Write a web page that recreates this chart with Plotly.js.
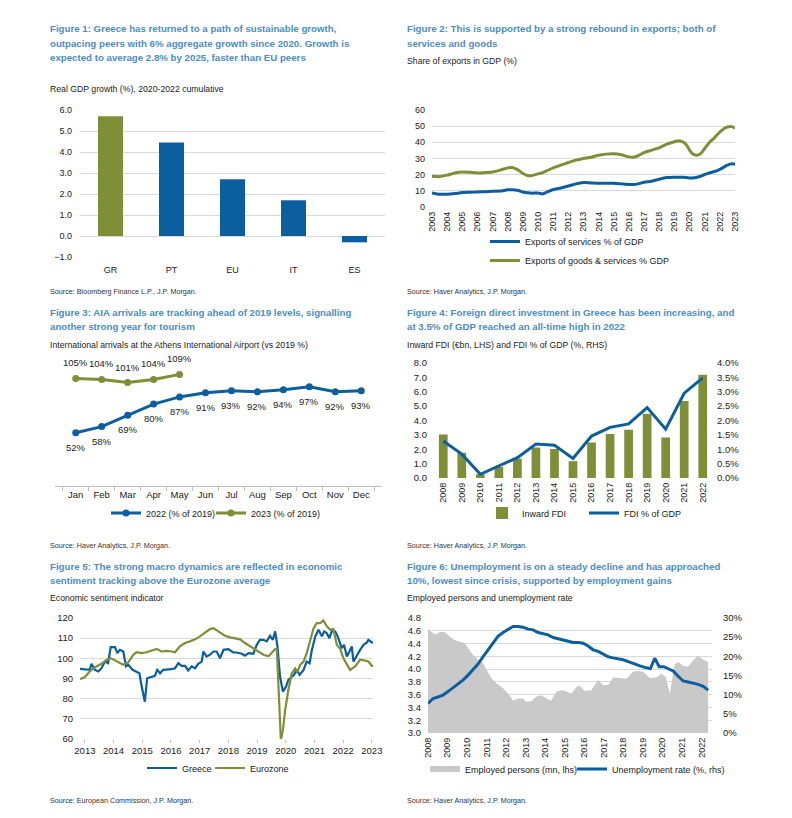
<!DOCTYPE html>
<html><head><meta charset="utf-8">
<script src="https://cdn.plot.ly/plotly-3.0.1.min.js"></script>
<style>html,body{margin:0;padding:0;background:#fff}#chart{width:792px;height:818px}</style>
</head><body><div id="chart"></div>
<script>
// ---------- Figure 1 ----------
const gdpCountries = ['GR', 'PT', 'EU', 'IT', 'ES'];
const gdpGrowth = [5.7, 4.45, 2.7, 1.7, -0.3];

// ---------- Figure 2 ----------
const exportYears = [2003, 2003.5, 2004, 2004.5, 2005, 2005.5, 2006, 2006.5, 2007, 2007.5, 2008, 2008.3, 2008.7, 2009, 2009.3, 2009.6, 2010, 2010.3, 2010.6, 2011, 2011.5, 2012, 2012.5, 2013, 2013.5, 2014, 2014.5, 2015, 2015.5, 2016, 2016.3, 2016.6, 2017, 2017.5, 2018, 2018.5, 2019, 2019.3, 2019.6, 2019.8, 2020, 2020.2, 2020.5, 2020.8, 2021, 2021.3, 2021.6, 2021.9, 2022.2, 2022.5, 2022.8, 2023];
const exportsServices = [8.7, 7.9, 7.9, 8.3, 8.9, 9.1, 9.3, 9.5, 9.7, 9.9, 10.6, 10.7, 10.2, 9.3, 8.8, 8.5, 8.7, 8.1, 9.3, 10.8, 11.8, 13.0, 14.3, 15.1, 14.9, 14.7, 14.7, 14.7, 14.3, 13.9, 13.9, 14.3, 15.3, 15.9, 17.2, 18.2, 18.4, 18.4, 18.4, 18.2, 18.0, 17.9, 18.4, 19.2, 20.1, 21.0, 21.8, 22.8, 24.3, 25.9, 26.7, 26.5];
const exportsGoodsServices = [19.0, 18.8, 19.7, 21.0, 21.7, 21.5, 21.0, 21.3, 21.7, 22.8, 24.2, 24.4, 22.8, 20.7, 19.5, 19.5, 20.5, 21.3, 22.5, 24.2, 25.9, 27.5, 29.0, 30.0, 30.8, 32.0, 32.7, 32.9, 32.3, 31.0, 30.8, 31.7, 33.7, 35.2, 36.6, 38.9, 40.4, 41.0, 40.0, 38.3, 35.2, 32.9, 32.0, 33.7, 36.2, 39.8, 42.4, 45.5, 48.0, 49.5, 49.7, 48.7];

// ---------- Figure 3 ----------
const months = ['Jan', 'Feb', 'Mar', 'Apr', 'May', 'Jun', 'Jul', 'Aug', 'Sep', 'Oct', 'Nov', 'Dec'];
const arrivals2022 = [52, 58, 69, 80, 87, 91, 93, 92, 94, 97, 92, 93];
const arrivals2023 = [105, 104, 101, 104, 109];

// ---------- Figure 4 ----------
const fdiYears = ['2008', '2009', '2010', '2011', '2012', '2013', '2014', '2015', '2016', '2017', '2018', '2019', '2020', '2021', '2022'];
const fdiBn = [3.03, 1.75, 0.26, 0.77, 1.35, 2.12, 2.02, 1.17, 2.47, 3.06, 3.36, 4.46, 2.82, 5.36, 7.18];
const fdiPctGdp = [1.29, 0.83, 0.13, 0.42, 0.71, 1.18, 1.14, 0.68, 1.46, 1.76, 1.88, 2.45, 1.70, 2.95, 3.48];

// ---------- Figure 5 ----------
const esiGreeceDates = [2012.83, 2013.17, 2013.23, 2013.35, 2013.47, 2013.58, 2013.70, 2013.81, 2013.90, 2014.05, 2014.13, 2014.22, 2014.34, 2014.43, 2014.51, 2014.66, 2014.78, 2014.90, 2014.98, 2015.09, 2015.17, 2015.33, 2015.44, 2015.52, 2015.62, 2015.73, 2015.91, 2016.02, 2016.14, 2016.26, 2016.37, 2016.49, 2016.60, 2016.72, 2016.84, 2016.95, 2017.07, 2017.13, 2017.24, 2017.36, 2017.48, 2017.59, 2017.71, 2017.83, 2018.00, 2018.17, 2018.29, 2018.47, 2018.58, 2018.70, 2018.87, 2018.99, 2019.10, 2019.22, 2019.34, 2019.45, 2019.55, 2019.63, 2019.71, 2019.80, 2019.90, 2020.01, 2020.09, 2020.21, 2020.29, 2020.38, 2020.48, 2020.62, 2020.73, 2020.83, 2020.91, 2021.03, 2021.14, 2021.26, 2021.34, 2021.43, 2021.52, 2021.60, 2021.72, 2021.81, 2021.90, 2021.95, 2022.03, 2022.13, 2022.22, 2022.30, 2022.36, 2022.48, 2022.59, 2022.71, 2022.83, 2022.88, 2023.00, 2023.06];
const esiGreece = [94.8, 94.3, 97.3, 94.3, 93.5, 95.1, 98.4, 97.6, 105.6, 105.6, 102.6, 104.2, 103.4, 96.0, 96.8, 94.3, 93.5, 92.6, 86.0, 78.5, 90.1, 90.6, 91.3, 94.3, 92.6, 94.3, 94.3, 94.6, 95.1, 97.6, 96.3, 96.3, 94.0, 96.0, 95.1, 97.3, 98.4, 103.4, 100.9, 101.8, 103.4, 103.4, 100.1, 104.2, 104.6, 102.9, 102.9, 102.3, 101.3, 102.6, 102.3, 106.7, 109.2, 109.2, 108.4, 111.2, 109.2, 113.4, 105.9, 91.0, 83.5, 86.0, 89.3, 91.0, 91.8, 94.3, 91.8, 94.3, 98.4, 97.6, 104.2, 110.9, 114.2, 110.9, 113.4, 112.5, 110.0, 113.4, 113.4, 110.9, 106.7, 105.1, 106.7, 100.9, 103.4, 105.9, 98.4, 101.8, 104.2, 106.7, 107.9, 109.2, 107.9, 107.9];
const esiEuroDates = [2012.83, 2013.00, 2013.17, 2013.35, 2013.58, 2013.76, 2013.90, 2014.05, 2014.22, 2014.34, 2014.51, 2014.69, 2014.80, 2014.98, 2015.15, 2015.33, 2015.50, 2015.67, 2015.85, 2016.02, 2016.14, 2016.31, 2016.49, 2016.66, 2016.84, 2017.01, 2017.19, 2017.36, 2017.48, 2017.59, 2017.71, 2017.88, 2018.06, 2018.23, 2018.41, 2018.58, 2018.76, 2018.93, 2019.05, 2019.22, 2019.40, 2019.51, 2019.63, 2019.69, 2019.78, 2019.83, 2019.90, 2019.98, 2020.09, 2020.21, 2020.33, 2020.41, 2020.50, 2020.62, 2020.73, 2020.85, 2020.97, 2021.08, 2021.20, 2021.31, 2021.43, 2021.55, 2021.66, 2021.78, 2021.90, 2022.01, 2022.13, 2022.24, 2022.42, 2022.59, 2022.77, 2022.88, 2023.00, 2023.06];
const esiEuro = [89.7, 90.7, 93.5, 95.6, 97.3, 99.3, 100.1, 98.9, 97.6, 96.8, 98.0, 101.8, 103.0, 102.6, 103.0, 104.0, 104.7, 103.4, 103.7, 103.4, 103.0, 105.9, 107.6, 108.4, 109.4, 110.9, 112.9, 114.5, 115.0, 113.9, 112.5, 111.2, 110.4, 110.0, 109.4, 107.6, 105.9, 104.6, 103.4, 101.8, 101.0, 102.6, 104.6, 104.2, 79.4, 59.5, 64.4, 74.4, 84.3, 92.6, 95.0, 93.3, 96.8, 98.4, 102.6, 108.4, 115.0, 117.5, 117.5, 118.8, 115.9, 114.2, 114.5, 106.7, 104.6, 100.0, 96.8, 94.3, 96.0, 99.3, 98.9, 98.4, 96.3, 96.3];

// ---------- Figure 6 ----------
const empDates = [2008.00, 2008.26, 2008.43, 2008.60, 2008.85, 2009.11, 2009.37, 2009.62, 2009.88, 2010.05, 2010.30, 2010.56, 2010.82, 2010.99, 2011.24, 2011.50, 2011.84, 2012.10, 2012.35, 2012.61, 2012.86, 2013.03, 2013.29, 2013.55, 2013.80, 2014.06, 2014.31, 2014.57, 2014.83, 2015.08, 2015.34, 2015.59, 2015.76, 2016.02, 2016.36, 2016.70, 2016.96, 2017.22, 2017.47, 2017.81, 2018.15, 2018.49, 2018.70, 2019.01, 2019.35, 2019.69, 2019.95, 2020.17, 2020.37, 2020.63, 2020.80, 2021.05, 2021.31, 2021.57, 2021.82, 2022.08, 2022.33];
const employedPersons = [4.62, 4.56, 4.54, 4.58, 4.58, 4.51, 4.45, 4.43, 4.41, 4.33, 4.22, 4.15, 4.09, 3.99, 3.86, 3.78, 3.70, 3.62, 3.51, 3.54, 3.54, 3.49, 3.50, 3.57, 3.59, 3.54, 3.51, 3.65, 3.67, 3.65, 3.62, 3.72, 3.74, 3.66, 3.67, 3.83, 3.75, 3.75, 3.87, 3.86, 3.85, 3.96, 3.97, 3.96, 3.86, 3.87, 3.93, 3.87, 3.62, 4.08, 4.11, 4.05, 4.04, 4.14, 4.21, 4.15, 4.11];
const unempDates = [2008.00, 2008.26, 2008.51, 2008.77, 2009.02, 2009.28, 2009.54, 2009.79, 2010.05, 2010.30, 2010.56, 2010.82, 2011.07, 2011.33, 2011.58, 2011.84, 2012.10, 2012.35, 2012.61, 2012.86, 2013.12, 2013.38, 2013.63, 2013.89, 2014.14, 2014.40, 2014.66, 2014.91, 2015.17, 2015.43, 2015.68, 2015.94, 2016.19, 2016.45, 2016.71, 2016.96, 2017.22, 2017.47, 2017.73, 2017.98, 2018.32, 2018.58, 2018.84, 2019.18, 2019.38, 2019.60, 2019.83, 2020.06, 2020.29, 2020.54, 2020.80, 2021.05, 2021.31, 2021.57, 2021.82, 2022.08, 2022.33];
const unemploymentRate = [7.7, 9.0, 9.4, 9.9, 10.8, 11.8, 12.8, 13.8, 15.1, 16.4, 18.0, 19.9, 21.7, 23.6, 25.2, 26.2, 27.1, 27.8, 27.8, 27.6, 27.1, 26.9, 26.2, 25.9, 25.6, 24.9, 24.6, 24.3, 24.1, 23.6, 23.6, 23.4, 22.7, 21.7, 21.3, 20.6, 19.9, 19.6, 19.3, 19.1, 18.5, 17.9, 17.5, 17.0, 16.8, 19.5, 17.3, 17.3, 16.8, 16.2, 14.8, 13.6, 13.3, 13.0, 12.7, 12.2, 11.2];

// ---------- Text ----------
const titleLines = {
  f1: ['Figure 1: Greece has returned to a path of sustainable growth,',
       'outpacing peers with 6% aggregate growth since 2020. Growth is',
       'expected to average 2.8% by 2025, faster than EU peers'],
  f2: ['Figure 2: This is supported by a strong rebound in exports; both of',
       'services and goods'],
  f3: ['Figure 3: AIA arrivals are tracking ahead of 2019 levels, signalling',
       'another strong year for tourism'],
  f4: ['Figure 4: Foreign direct investment in Greece has been increasing, and',
       'at 3.5% of GDP reached an all-time high in 2022'],
  f5: ['Figure 5: The strong macro dynamics are reflected in economic',
       'sentiment tracking above the Eurozone average'],
  f6: ['Figure 6: Unemployment is on a steady decline and has approached',
       '10%, lowest since crisis, supported by employment gains']
};
const subtitles = {
  f1: 'Real GDP growth (%), 2020-2022 cumulative',
  f2: 'Share of exports in GDP (%)',
  f3: 'International arrivals at the Athens International Airport (vs 2019 %)',
  f4: 'Inward FDI (€bn, LHS) and FDI % of GDP (%, RHS)',
  f5: 'Economic sentiment indicator',
  f6: 'Employed persons and unemployment rate'
};
const sources = {
  f1: 'Source: Bloomberg Finance L.P., J.P. Morgan.',
  f2: 'Source: Haver Analytics, J.P. Morgan.',
  f3: 'Source: Haver Analytics, J.P. Morgan.',
  f4: 'Source: Haver Analytics, J.P. Morgan.',
  f5: 'Source: European Commission, J.P. Morgan.',
  f6: 'Source: Haver Analytics, J.P. Morgan.'
};

// ---------- Styling / layout helpers ----------
const W = 792, H = 818;
const px = v => v / W;
const py = v => 1 - v / H;
const hdom = (a, b) => [a / W, b / W];
const vdom = (top, bottom) => [1 - bottom / H, 1 - top / H];
const BLUE = '#0B5F9E';
const OLIVE = '#7F8F38';
const GRAY_AREA = '#C9C9C9';
const GRID = '#D9D9D9';
const SANS = '"Liberation Sans", Arial, sans-serif';
const TICK = {family: SANS, size: 9, color: '#222'};
const TICK95 = {family: SANS, size: 9.5, color: '#222'};
const TITLE_COLOR = '#4C8DC7';

function note(x, y, text, font) {
  return {xref: 'paper', yref: 'paper', x: px(x), y: py(y), xanchor: 'left', yanchor: 'middle',
          text: text, showarrow: false, align: 'left', font: font};
}
const titleFont = {family: SANS, size: 9.7, color: TITLE_COLOR, weight: 'bold'};
const subFont = {family: SANS, size: 8.7, color: '#222'};
const srcFont = {family: SANS, size: 7.2, color: '#333'};

function titleNotes(x, ys, lines) {
  return lines.map((t, i) => note(x, ys[i], '<b>' + t + '</b>', titleFont));
}

// Data labels for Figure 3 (anchored to data coordinates on x3/y3)
function pointLabels(xs, vals, below) {
  return vals.map((v, i) => ({
    xref: 'x3', yref: 'y3', x: xs[i], y: v, text: v + '%', showarrow: false,
    xanchor: 'center', yanchor: below ? 'top' : 'bottom', yshift: below ? -7 : 8,
    font: {family: SANS, size: 9.5, color: '#222'}
  }));
}

const traces = [
  // Figure 1
  {type: 'bar', x: gdpCountries, y: gdpGrowth, xaxis: 'x', yaxis: 'y', width: 0.41,
   marker: {color: gdpCountries.map(c => c === 'GR' ? OLIVE : BLUE)}, showlegend: false},
  // Figure 2
  {type: 'scatter', mode: 'lines', x: exportYears, y: exportsServices, xaxis: 'x2', yaxis: 'y2',
   name: 'Exports of services % of GDP', line: {color: BLUE, width: 3, shape: 'spline', smoothing: 0.6}, legend: 'legend'},
  {type: 'scatter', mode: 'lines', x: exportYears, y: exportsGoodsServices, xaxis: 'x2', yaxis: 'y2',
   name: 'Exports of goods & services % GDP', line: {color: OLIVE, width: 3, shape: 'spline', smoothing: 0.6}, legend: 'legend'},
  // Figure 3
  {type: 'scatter', mode: 'lines+markers', x: months, y: arrivals2022, xaxis: 'x3', yaxis: 'y3',
   name: '2022 (% of 2019)', line: {color: BLUE, width: 3}, marker: {color: BLUE, size: 7},
   cliponaxis: false, legend: 'legend2'},
  {type: 'scatter', mode: 'lines+markers', x: months.slice(0, arrivals2023.length), y: arrivals2023, xaxis: 'x3', yaxis: 'y3',
   name: '2023 (% of 2019)', line: {color: OLIVE, width: 3}, marker: {color: OLIVE, size: 7},
   cliponaxis: false, legend: 'legend3'},
  // Figure 4
  {type: 'bar', x: fdiYears, y: fdiBn, xaxis: 'x4', yaxis: 'y4', width: 0.47,
   name: 'Inward FDI', marker: {color: OLIVE}, legend: 'legend4'},
  {type: 'scatter', mode: 'lines', x: fdiYears, y: fdiPctGdp, xaxis: 'x4', yaxis: 'y5',
   name: 'FDI % of GDP', line: {color: BLUE, width: 3}, legend: 'legend5'},
  // Figure 5
  {type: 'scatter', mode: 'lines', x: esiGreeceDates, y: esiGreece, xaxis: 'x5', yaxis: 'y6',
   name: 'Greece', line: {color: BLUE, width: 2.2}, legend: 'legend6'},
  {type: 'scatter', mode: 'lines', x: esiEuroDates, y: esiEuro, xaxis: 'x5', yaxis: 'y6',
   name: 'Eurozone', line: {color: OLIVE, width: 2.2}, legend: 'legend7'},
  // Figure 6
  {type: 'scatter', mode: 'none', x: empDates, y: employedPersons, xaxis: 'x6', yaxis: 'y7',
   name: 'Employed persons (mn, lhs)', fill: 'tozeroy', fillcolor: GRAY_AREA, legend: 'legend8'},
  {type: 'scatter', mode: 'lines', x: unempDates, y: unemploymentRate, xaxis: 'x6', yaxis: 'y8',
   name: 'Unemployment rate (%, rhs)', line: {color: BLUE, width: 3}, legend: 'legend9'}
];

const legendBase = {bgcolor: 'rgba(0,0,0,0)', borderwidth: 0, font: {family: SANS, size: 9, color: '#222'},
                    xanchor: 'left', yanchor: 'middle', orientation: 'h'};
const leg = (x, y, extra) => Object.assign({}, legendBase, {x: px(x), y: py(y)}, extra || {});

const layout = {
  width: W, height: H, margin: {l: 0, r: 0, t: 0, b: 0},
  paper_bgcolor: '#fff', plot_bgcolor: 'rgba(0,0,0,0)',
  font: {family: SANS, size: 9, color: '#222'},
  showlegend: true,
  // Figure 1 axes
  xaxis: {domain: hdom(80, 385), anchor: 'y', type: 'category', tickfont: TICK, showgrid: false,
          showline: false, zeroline: false, ticks: '', ticklabelstandoff: 6},
  yaxis: {domain: vdom(110, 257), anchor: 'x', range: [-1, 6], dtick: 1, tickformat: '.1f', tickfont: TICK,
          showgrid: true, gridcolor: GRID, zeroline: false, ticks: '', ticklabelstandoff: 7},
  // Figure 2 axes
  xaxis2: {domain: hdom(432, 735), anchor: 'y2', range: [2003, 2023], dtick: 1, tick0: 2003, tickangle: -90,
           tickfont: TICK, showgrid: false, zeroline: false, ticks: '', ticklabelstandoff: 2},
  yaxis2: {domain: vdom(110, 207), anchor: 'x2', range: [0, 60], dtick: 10, tickfont: TICK,
           showgrid: true, gridcolor: GRID, zeroline: false, ticks: '', ticklabelstandoff: 6},
  // Figure 3 axes
  xaxis3: {domain: hdom(55, 382), anchor: 'y3', type: 'category', tickfont: TICK95, tickangle: 0, showgrid: false,
           showline: true, linecolor: '#BFBFBF', ticks: 'outside', tickson: 'boundaries', ticklen: 4,
           tickcolor: '#BFBFBF', zeroline: false},
  yaxis3: {domain: vdom(358, 486), anchor: 'x3', range: [0, 125], visible: false},
  // Figure 4 axes
  xaxis4: {domain: hdom(434, 712), anchor: 'y4', type: 'category', tickangle: -90, tickfont: TICK,
           showgrid: false, zeroline: false, ticks: '', ticklabelstandoff: 2},
  yaxis4: {domain: vdom(363, 478), anchor: 'x4', range: [0, 8], dtick: 1, tickformat: '.1f', tickfont: TICK95,
           showgrid: false, zeroline: false, ticks: '', ticklabelstandoff: 6},
  yaxis5: {overlaying: 'y4', anchor: 'x4', side: 'right', range: [0, 4], dtick: 0.5, tickformat: '.1f',
           ticksuffix: '%', tickfont: TICK95, showgrid: false, zeroline: false, ticks: '', ticklabelstandoff: 4},
  // Figure 5 axes
  xaxis5: {domain: hdom(80, 373), anchor: 'y6', range: [2012.83, 2023.04], dtick: 1, tick0: 2013,
           tickfont: TICK95, showgrid: false, zeroline: false, ticks: 'outside', ticklen: 3, tickcolor: '#BFBFBF'},
  yaxis6: {domain: vdom(618, 739), anchor: 'x5', range: [60, 120], dtick: 10, tickfont: TICK95,
           showgrid: true, gridcolor: GRID, zeroline: false, ticks: '', ticklabelstandoff: 6},
  // Figure 6 axes
  xaxis6: {domain: hdom(428, 712), anchor: 'y7', range: [2008, 2022.53], dtick: 1, tick0: 2008, tickangle: -90,
           tickfont: TICK, showgrid: false, zeroline: false, ticks: '', ticklabelstandoff: 2},
  yaxis7: {domain: vdom(618, 733), anchor: 'x6', range: [3.0, 4.8], dtick: 0.2, tickformat: '.1f',
           tickfont: TICK95, showgrid: true, gridcolor: GRID, zeroline: false, ticks: '', ticklabelstandoff: 6},
  yaxis8: {overlaying: 'y7', anchor: 'x6', side: 'right', range: [0, 30], dtick: 5, ticksuffix: '%',
           tickfont: TICK95, showgrid: false, zeroline: false, ticks: '', ticklabelstandoff: 10},
  // Legends (one per entry so each can sit where the reference shows it)
  legend: leg(485, 251, {orientation: 'v'}),
  legend2: leg(106, 513),
  legend3: leg(211, 513),
  legend4: leg(482, 513),
  legend5: leg(584, 513),
  legend6: leg(142, 768),
  legend7: leg(210, 768),
  legend8: leg(425, 769),
  legend9: leg(572, 769),
  annotations: [].concat(
    titleNotes(48, [29, 43.5, 58], titleLines.f1),
    [note(48, 89, subtitles.f1, subFont)],
    titleNotes(405, [29, 43.5], titleLines.f2),
    [note(405, 61, subtitles.f2, subFont)],
    [note(48, 291, sources.f1, srcFont), note(405, 291, sources.f2, srcFont)],
    titleNotes(48, [312, 327], titleLines.f3),
    [note(48, 345, subtitles.f3, subFont)],
    titleNotes(405, [312, 327], titleLines.f4),
    [note(405, 345, subtitles.f4, subFont)],
    [note(48, 545, sources.f3, srcFont), note(405, 545, sources.f4, srcFont)],
    titleNotes(48, [566, 580], titleLines.f5),
    [note(48, 598, subtitles.f5, subFont)],
    titleNotes(405, [566, 580], titleLines.f6),
    [note(405, 598, subtitles.f6, subFont)],
    [note(48, 800, sources.f5, srcFont), note(405, 800, sources.f6, srcFont)],
    pointLabels(months, arrivals2022, true),
    pointLabels(months, arrivals2023, false)
  )
};

Plotly.newPlot('chart', traces, layout, {displayModeBar: false, staticPlot: true});
</script>
</body></html>
